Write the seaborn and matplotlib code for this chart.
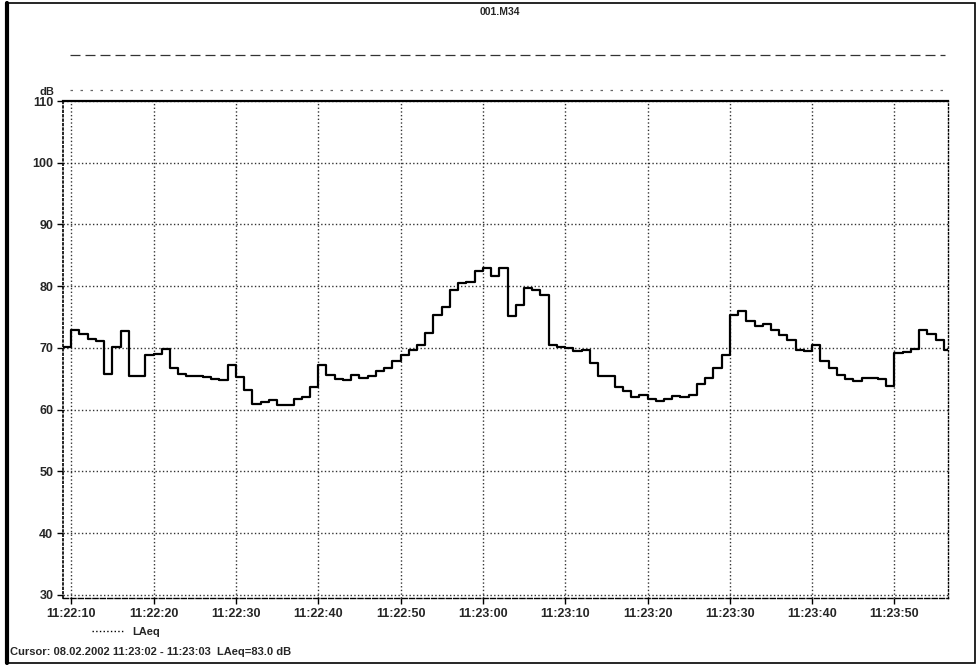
import matplotlib
matplotlib.use("Agg")
import matplotlib.pyplot as plt
import matplotlib.dates as mdates
from matplotlib.lines import Line2D
from matplotlib.patches import Rectangle
import pandas as pd
import seaborn as sns

# ---------------- data ----------------
title = "001.M34"
series_name = "LAeq"
start_time = "2002-02-08 11:22:09"
end_time = "2002-02-08 11:23:56.5"
laeq = [
    70.2, 72.9, 72.3, 71.4, 71.1, 65.8, 70.2, 72.8, 65.5, 65.5,
    68.8, 69.0, 69.8, 66.8, 65.8, 65.5, 65.5, 65.3, 65.0, 64.8,
    67.3, 65.3, 63.2, 61.0, 61.2, 61.6, 60.8, 60.8, 61.7, 62.0,
    63.6, 67.3, 65.7, 64.9, 64.8, 65.7, 65.2, 65.5, 66.3, 66.8,
    67.9, 68.9, 69.7, 70.5, 72.4, 75.4, 76.7, 79.4, 80.5, 80.7,
    82.4, 82.9, 81.6, 83.0, 75.2, 77.0, 79.7, 79.4, 78.6, 70.5,
    70.2, 70.0, 69.5, 69.7, 67.6, 65.5, 65.5, 63.6, 63.1, 62.0,
    62.4, 61.7, 61.4, 61.7, 62.2, 62.0, 62.4, 64.1, 65.2, 66.8,
    68.9, 75.3, 76.0, 74.4, 73.6, 73.8, 72.9, 72.1, 71.3, 69.7,
    69.5, 70.5, 67.9, 66.8, 65.7, 64.9, 64.7, 65.2, 65.2, 64.9,
    63.9, 69.2, 69.4, 69.8, 72.9, 72.2, 71.3, 69.7,
]
y_ticks = [30, 40, 50, 60, 70, 80, 90, 100, 110]
x_tick_labels = ["11:22:10", "11:22:20", "11:22:30", "11:22:40", "11:22:50",
                 "11:23:00", "11:23:10", "11:23:20", "11:23:30", "11:23:40",
                 "11:23:50"]
y_unit = "dB"
cursor_text = "Cursor: 08.02.2002 11:23:02 - 11:23:03  LAeq=83.0 dB"

# ---------------- style ----------------
sns.set_theme(style="white")
plt.rcParams['font.family'] = ['Liberation Sans', 'DejaVu Sans']

times = pd.date_range(start_time, periods=len(laeq) + 1, freq="s")
df = pd.DataFrame({"time": times, "LAeq": laeq + [laeq[-1]]})

W, H = 978, 667
fig = plt.figure(figsize=(W / 100, H / 100), dpi=100)
fig.patch.set_facecolor("white")

left_px, right_px, top_px, bot_px = 63, 948, 101, 598
ax = fig.add_axes([left_px / W, 1 - bot_px / H, (right_px - left_px) / W, (bot_px - top_px) / H])

sns.lineplot(data=df, x="time", y="LAeq", drawstyle="steps-post",
             color="black", linewidth=1.6, ax=ax, legend=False)

ax.set_xlim(pd.Timestamp(start_time), pd.Timestamp(end_time))
ax.set_ylim(29.5, 110)

tick_pos = [pd.Timestamp("2002-02-08 " + s) for s in x_tick_labels]
ax.set_xticks(tick_pos)
ax.set_xticklabels(x_tick_labels, fontsize=9, fontweight="bold")
ax.set_yticks(y_ticks)
ax.set_yticklabels([str(v) for v in y_ticks], fontsize=9, fontweight="bold")
ax.set_xlabel("")
ax.set_ylabel("")

ax.tick_params(axis="both", which="major", direction="out", length=4,
               width=1, color="black", pad=3, bottom=True, left=True)
ax.grid(True, linestyle=":", color="black", linewidth=1.0, alpha=0.8)

ax.spines["top"].set_linewidth(1.6)
ax.spines["top"].set_color("black")
ax.spines["left"].set_linestyle(":")
ax.spines["left"].set_linewidth(1.2)
ax.spines["left"].set_color("black")
ax.spines["bottom"].set_linestyle("--")
ax.spines["bottom"].set_linewidth(1.0)
ax.spines["bottom"].set_color("black")
ax.spines["right"].set_linestyle(":")
ax.spines["right"].set_linewidth(1.0)
ax.spines["right"].set_color("black")

# ---------------- figure decorations ----------------
fig.text(500 / W, 1 - 12 / H, title, ha="center", va="center",
         fontsize=7.5, fontweight="bold")
fig.text(47 / W, 1 - 92 / H, y_unit, ha="center", va="center",
         fontsize=8, fontweight="bold")

# dashed band lines above plot (as in the reference)
fig.add_artist(Line2D([70 / W, 945 / W], [1 - 55 / H, 1 - 55 / H],
                      transform=fig.transFigure, color="black",
                      linestyle=(0, (8, 4)), linewidth=0.9, alpha=0.8))
fig.add_artist(Line2D([70 / W, 945 / W], [1 - 90 / H, 1 - 90 / H],
                      transform=fig.transFigure, color="black",
                      linestyle=(0, (2, 6)), linewidth=0.9, alpha=0.6))

# legend
handle = Line2D([], [], color="black", linestyle=":", linewidth=1.0)
fig.legend(handles=[handle], labels=[series_name], loc="center left",
           bbox_to_anchor=(82 / W, 1 - 632 / H), frameon=False,
           handlelength=3.0, handletextpad=0.6,
           prop={"size": 8, "weight": "bold"})

fig.text(10 / W, 1 - 652 / H, cursor_text, ha="left", va="center",
         fontsize=8, fontweight="bold")

# outer frame
fig.add_artist(Rectangle((6 / W, 4 / H), 969 / W, 660 / H, transform=fig.transFigure,
                         fill=False, edgecolor="black", linewidth=1.2))
fig.add_artist(Line2D([7 / W, 7 / W], [4 / H, 664 / H], transform=fig.transFigure,
                      color="black", linewidth=3))

fig.savefig("out.png", dpi=100, facecolor="white")
